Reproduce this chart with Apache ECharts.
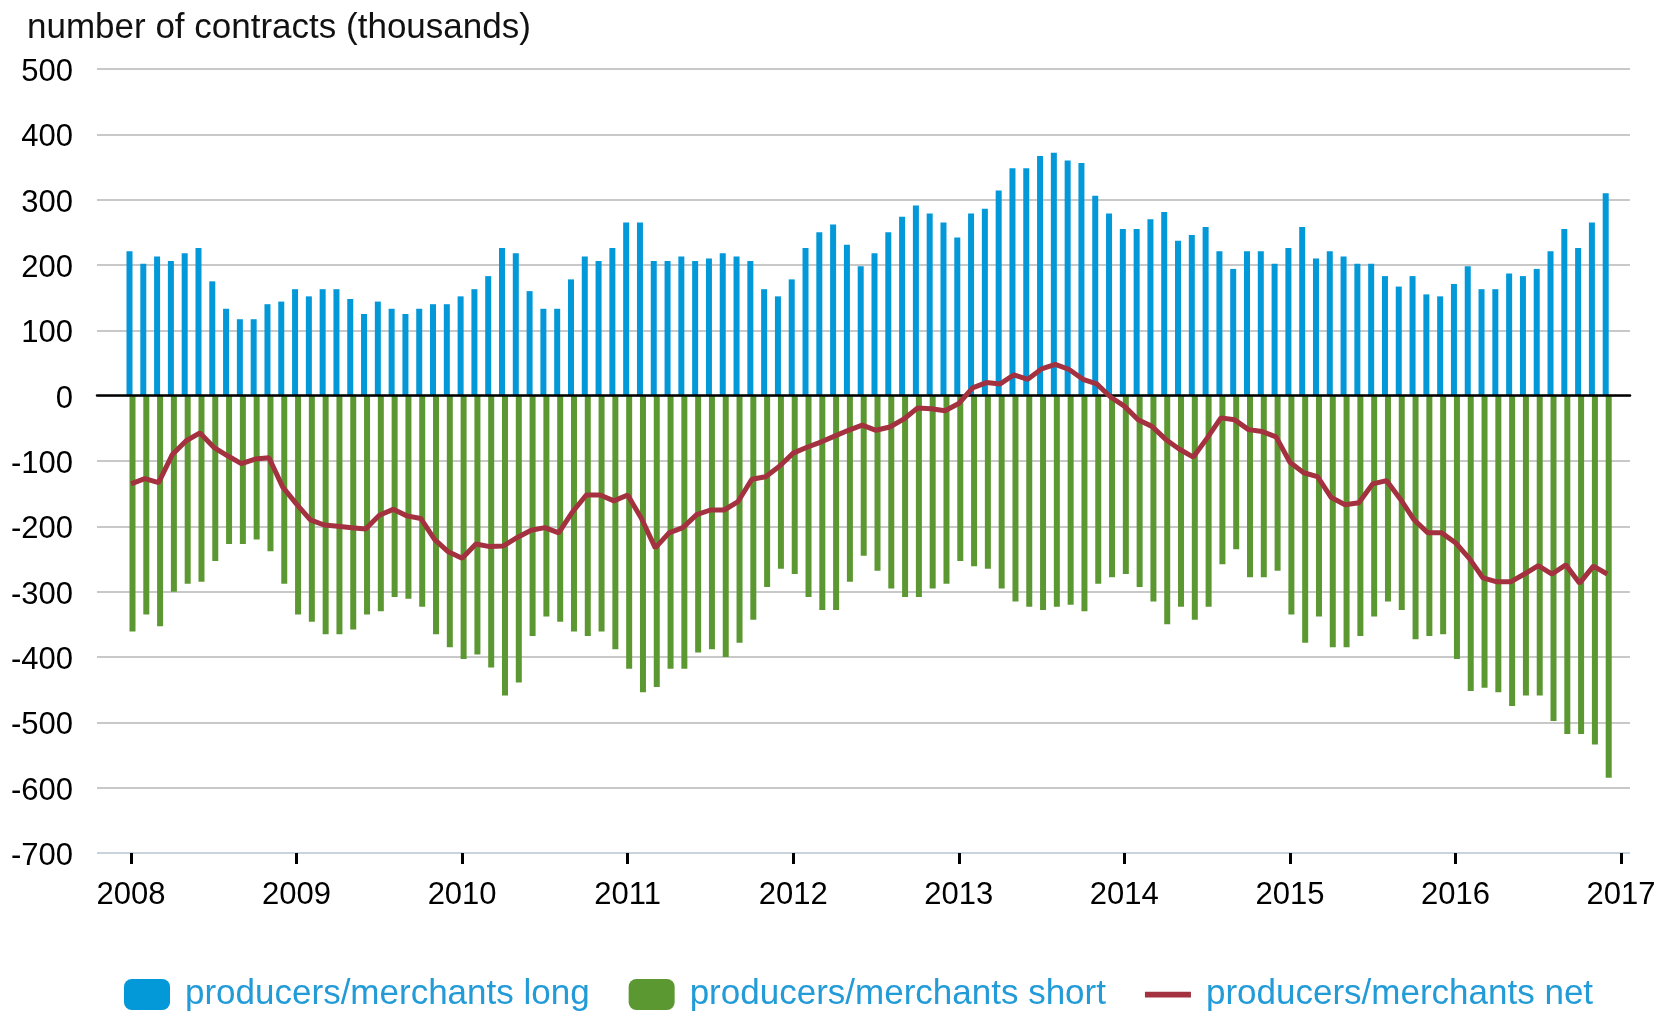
<!DOCTYPE html>
<html>
<head>
<meta charset="utf-8">
<style>
html,body{margin:0;padding:0;background:#fff;}
#chart{width:1662px;height:1011px;}
</style>
<script src="https://cdn.jsdelivr.net/npm/echarts@6/dist/echarts.min.js"></script>
</head>
<body>
<div id="chart"></div>
<script>
// ---- data (thousands of contracts, monthly Jan 2008 - Dec 2016) ----
const years = [2008, 2009, 2010, 2011, 2012, 2013, 2014, 2015, 2016];
const xTickLabels = ['2008','2009','2010','2011','2012','2013','2014','2015','2016','2017'];
const yTickLabels = ['-700','-600','-500','-400','-300','-200','-100','0','100','200','300','400','500'];

const longVals = [
  221, 202, 213, 206, 218, 226, 175, 133, 117, 117, 140, 144,
  163, 152, 163, 163, 148, 125, 144, 133, 125, 133, 140, 140,
  152, 163, 183, 226, 218, 160, 133, 133, 178, 213, 206, 226,
  265, 265, 206, 206, 213, 206, 210, 218, 213, 206, 163, 152,
  178, 226, 250, 262, 231, 198, 218, 250, 274, 291, 279, 265,
  242, 279, 286, 314, 348, 348, 367, 372, 360, 356, 306, 279,
  255, 255, 270, 281, 237, 246, 258, 221, 194, 221, 221, 202,
  226, 258, 210, 221, 213, 202, 202, 183, 167, 183, 155, 152,
  171, 198, 163, 163, 187, 183, 194, 221, 255, 226, 265, 310
];
const shortVals = [
  -361, -335, -353, -300, -288, -285, -253, -227, -227, -220, -238, -288,
  -335, -346, -365, -365, -358, -335, -330, -308, -311, -323, -365, -385,
  -403, -396, -416, -459, -439, -368, -338, -346, -361, -368, -361, -388,
  -418, -454, -446, -418, -418, -393, -388, -400, -378, -343, -293, -265,
  -273, -308, -328, -328, -285, -245, -268, -295, -308, -308, -295, -288,
  -253, -261, -265, -295, -315, -323, -328, -323, -320, -330, -288, -278,
  -273, -293, -315, -350, -323, -343, -323, -258, -235, -278, -278, -268,
  -335, -378, -338, -385, -385, -368, -338, -315, -328, -373, -368, -365,
  -403, -452, -447, -454, -475, -459, -459, -498, -518, -518, -534, -585
];
const netVals = [
  -135, -127, -133, -90, -69, -57, -79, -92, -104, -97, -95, -140,
  -166, -190, -198, -200, -202, -204, -183, -174, -184, -188, -220, -239,
  -249, -227, -231, -230, -217, -206, -202, -210, -178, -152, -152, -161,
  -152, -188, -233, -210, -202, -182, -175, -175, -162, -128, -124, -108,
  -88, -79, -71, -62, -53, -45, -53, -48, -36, -19, -20, -23,
  -12, 12, 20, 18, 32, 25, 41, 48, 40, 25, 18, -2,
  -16, -37, -47, -67, -82, -94, -65, -34, -37, -52, -55, -63,
  -102, -118, -124, -156, -167, -164, -135, -130, -158, -190, -210, -210,
  -225, -249, -279, -285, -285, -273, -260, -273, -259, -287, -261, -273
];
const seriesNames = ['producers/merchants long', 'producers/merchants short', 'producers/merchants net'];

// month positions on a year scale (category placement)
const monthPos = [];
years.forEach(y => { for (let m = 0; m < 12; m++) monthPos.push(y + m / 12); });

const FONT = "'Liberation Sans', Arial, Helvetica, sans-serif";
const yMin = Number(yTickLabels[0]), yMax = Number(yTickLabels[yTickLabels.length - 1]);
const xMin = Number(xTickLabels[0]), xMax = Number(xTickLabels[xTickLabels.length - 1]);

const splitColors = yTickLabels.map((t, i) => i === 0 ? '#c9d3dd' : '#c8c8c8');

const chart = echarts.init(document.getElementById('chart'), null, {renderer: 'canvas'});
chart.setOption({
  animation: false,
  backgroundColor: '#ffffff',
  textStyle: {fontFamily: FONT},
  title: {
    text: 'number of contracts (thousands)',
    left: 22, top: 6,
    textStyle: {fontSize: 35, fontWeight: 'normal', color: '#111', fontFamily: FONT}
  },
  legend: {
    left: 124, top: 977, padding: 0,
    itemWidth: 46, itemHeight: 31, itemGap: 39,
    textStyle: {fontSize: 35, color: '#229bd7', fontFamily: FONT, padding: [0, 0, 0, 10]},
    data: [
      {name: seriesNames[0], icon: 'roundRect'},
      {name: seriesNames[1], icon: 'roundRect'},
      {name: seriesNames[2], icon: 'path://M0,0 M0,12.5 L48,12.5 L48,18.5 L0,18.5 Z M48,31'}
    ]
  },
  grid: [
    {left: 97, right: 32, top: 69, bottom: 158},
    {left: 131, right: 41, top: 69, bottom: 158}
  ],
  xAxis: [
    {
      gridIndex: 0, type: 'value', min: 0, max: 1, z: 5,
      axisLine: {show: true, onZero: true, lineStyle: {color: '#000', width: 2.5}},
      axisTick: {show: false}, axisLabel: {show: false}, splitLine: {show: false}
    },
    {
      gridIndex: 1, type: 'value', min: xMin, max: xMax, interval: 1,
      axisLine: {show: false, onZero: false},
      axisTick: {show: true, length: 11, lineStyle: {color: '#000', width: 3}},
      axisLabel: {fontSize: 31, color: '#000', margin: 27, fontFamily: FONT,
                  formatter: v => xTickLabels[Math.round(v - xMin)] || ''},
      splitLine: {show: false}
    }
  ],
  yAxis: [
    {
      gridIndex: 0, type: 'value', min: yMin, max: yMax, interval: 100,
      axisLine: {show: false}, axisTick: {show: false},
      axisLabel: {
        margin: 24,
        formatter: v => '{a|' + (yTickLabels[Math.round((v - yMin) / 100)] || '') + '}',
        rich: {a: {fontSize: 31, color: '#000', fontFamily: FONT, padding: [7, 0, 0, 0]}}
      },
      splitLine: {show: true, lineStyle: {color: splitColors, width: 2}}
    },
    {gridIndex: 1, type: 'value', min: yMin, max: yMax, interval: 100, show: false}
  ],
  series: [
    {
      name: seriesNames[0], type: 'bar', xAxisIndex: 1, yAxisIndex: 1,
      barWidth: 6, barGap: '-50%',
      itemStyle: {color: '#0398d8'},
      data: monthPos.map((x, i) => [x, longVals[i]])
    },
    {
      name: seriesNames[1], type: 'bar', xAxisIndex: 1, yAxisIndex: 1,
      barWidth: 6, barGap: '-50%',
      itemStyle: {color: '#5c9832'},
      data: monthPos.map((x, i) => [x, shortVals[i]])
    },
    {
      name: seriesNames[2], type: 'line', xAxisIndex: 1, yAxisIndex: 1,
      symbol: 'none', z: 10,
      itemStyle: {color: '#a3313f'},
      lineStyle: {color: '#a3313f', width: 5},
      data: monthPos.map((x, i) => [x, netVals[i]])
    }
  ]
});
</script>
</body>
</html>
